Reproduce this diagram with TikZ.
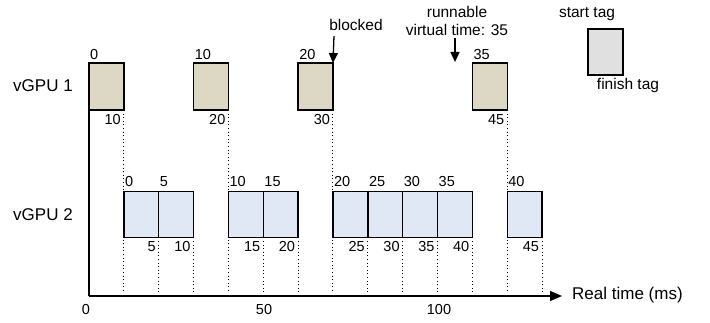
\documentclass[tikz,border=0pt]{standalone}
\usepackage{fontspec}
\setmainfont{Liberation Sans}
\usetikzlibrary{arrows.meta}
\definecolor{tanf}{HTML}{DDD8C3}
\definecolor{bluef}{HTML}{E1E8F5}
\definecolor{grayf}{HTML}{E0E0E0}
\tikzset{
  boxa/.style={draw, line width=1.4pt, fill=tanf, minimum width=34.85pt, minimum height=47pt, inner sep=0pt, outer sep=0pt, anchor=north west},
  boxb/.style={draw, line width=1.4pt, fill=bluef, minimum width=34.85pt, minimum height=46pt, inner sep=0pt, outer sep=0pt, anchor=north west},
  boxl/.style={draw, line width=1.4pt, fill=grayf, minimum width=35pt, minimum height=46pt, inner sep=0pt, outer sep=0pt, anchor=north west},
  num/.style={inner sep=0pt, font=\fontsize{14.5}{16}\selectfont},
  word/.style={inner sep=0pt, font=\fontsize{15.5}{17}\selectfont},
  big/.style={inner sep=0pt, font=\fontsize{17}{19}\selectfont},
  dotl/.style={line width=1pt, dash pattern=on 1pt off 2.6pt},
  axis/.style={line width=1.3pt},
  tip/.style={-{Triangle[length=10pt,width=9pt]}, line width=1.3pt}
}
\begin{document}
\begin{tikzpicture}[x=1pt,y=-1pt]
\useasboundingbox (0,0) rectangle (710,323);
% axes
\coordinate (org) at (89,296);
\coordinate (yend) at (89,110);
\coordinate (xend) at (562,296);
\coordinate (bot) at (0,292);
\draw[axis] (yend) -- (org);
\draw[axis,-{Triangle[length=12pt,width=10pt]}] (org) -- (xend);
\node[big, anchor=west] (rt) at (572,295) {Real time (ms)};
\node[num] (t0) at (86,310) {0};
\node[num] (t50) at (264,310) {50};
\node[num] (t100) at (439,310) {100};
% row labels
\node[big] (l1) at (43,86) {vGPU 1};
\node[big] (l2) at (43,215) {vGPU 2};
% vGPU 1
\foreach \n/\t/\s/\f in {a/0/0/10, b/30/10/20, c/60/20/30, d/110/35/45} {
  \node[boxa] (p\n) at ({89+3.485*\t},63) {};
  \node[num, anchor=base west] (ps\n) at ({90+3.485*\t},60) {\s};
  \node[num, anchor=base east] (pf\n) at ({89+3.485*\t+32},125) {\f};
  \draw[dotl] (p\n.south east) -- (p\n.south east |- bot);
}
% vGPU 2
\foreach \n/\t/\s/\f in {a/10/0/5, b/20/5/10, c/40/10/15, d/50/15/20, e/70/20/25, f/80/25/30, g/90/30/35, h/100/35/40, i/120/40/45} {
  \node[boxb] (q\n) at ({89+3.485*\t},191.5) {};
  \node[num, anchor=base west] (qs\n) at ({90+3.485*\t},187) {\s};
  \node[num, anchor=base east] (qf\n) at ({89+3.485*\t+32},252) {\f};
  \draw[dotl] (q\n.south east) -- (q\n.south east |- bot);
}
% blocked
\node[word] (blk) at (356,25) {blocked};
\coordinate (blks) at (334,36);
\draw[tip] (blks) -- (pc.north east);
% runnable
\node[word] (run1) at (457,12) {runnable};
\node[word] (run2) at (457,30) {virtual time: 35};
\coordinate (runs) at (455,38);
\coordinate (rune) at (455,62);
\draw[tip] (runs) -- (rune);
% legend
\node[boxl] (leg) at (588,29) {};
\node[word] (lst) at (587,14) {start tag};
\node[word] (lft) at (628,85) {finish tag};
\end{tikzpicture}
\end{document}
